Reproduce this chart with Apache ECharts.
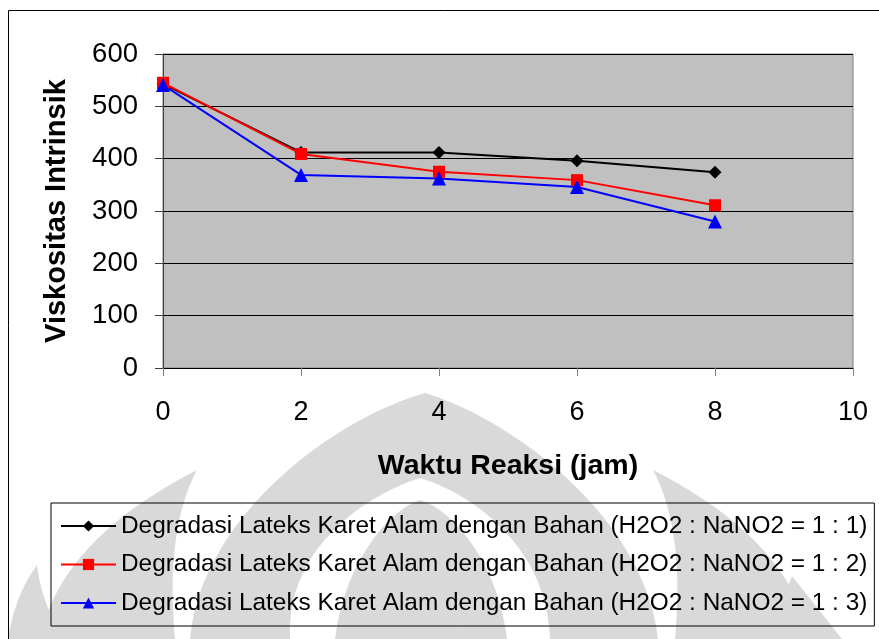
<!DOCTYPE html>
<html>
<head>
<meta charset="utf-8">
<script src="https://cdn.jsdelivr.net/npm/echarts@6/dist/echarts.min.js"></script>
<style>
html,body{margin:0;padding:0;background:#fff;}
#chart{width:879px;height:639px;}
</style>
</head>
<body>
<div id="chart"></div>
<script>
// ---- data ----
var timeValues = [0, 2, 4, 6, 8];
var seriesNames = [
  'Degradasi Lateks Karet Alam dengan Bahan (H2O2 : NaNO2 = 1 : 1)',
  'Degradasi Lateks Karet Alam dengan Bahan (H2O2 : NaNO2 = 1 : 2)',
  'Degradasi Lateks Karet Alam dengan Bahan (H2O2 : NaNO2 = 1 : 3)'
];
var ratio11 = [543, 412, 412, 396, 374];
var ratio12 = [545, 409, 375, 359, 311];
var ratio13 = [541, 369, 362, 346, 280];
var xAxisTitle = 'Waktu Reaksi (jam)';
var yAxisTitle = 'Viskositas Intrinsik';

function pairs(xs, ys) { return xs.map(function (x, i) { return [x, ys[i]]; }); }

var FONT = '"Liberation Sans", Arial, sans-serif';
var WM = '#d9d9d9';

// watermark helper: sample bezier segments into polygon points
function quad(p0, c, p1, out) {
  for (var i = 0; i <= 20; i++) { var t = i / 20, u = 1 - t;
    out.push([u*u*p0[0] + 2*u*t*c[0] + t*t*p1[0], u*u*p0[1] + 2*u*t*c[1] + t*t*p1[1]]); }
}
function cub(p0, c1, c2, p1, out) {
  for (var i = 0; i <= 24; i++) { var t = i / 24, u = 1 - t;
    out.push([u*u*u*p0[0] + 3*u*u*t*c1[0] + 3*u*t*t*c2[0] + t*t*t*p1[0],
              u*u*u*p0[1] + 3*u*u*t*c1[1] + 3*u*t*t*c2[1] + t*t*t*p1[1]]); }
}
function qShape(a, c1, tip, c2, b) { var o = []; quad(a, c1, tip, o); quad(tip, c2, b, o); return o; }
function cShape(a, c1, c2, tip, c3, c4, b) { var o = []; cub(a, c1, c2, tip, o); cub(tip, c3, c4, b, o); return o; }
function wm(points, fill, z) { return {type: 'polygon', z: z, silent: true, shape: {points: points}, style: {fill: fill}}; }

var chart = echarts.init(document.getElementById('chart'), null, {renderer: 'canvas'});
chart.setOption({
  animation: false,
  backgroundColor: '#ffffff',
  textStyle: {fontFamily: FONT},
  graphic: [
    wm(qShape([8,639],[15,595],[37,565],[42,605],[64,639]), WM, -10),
    wm(qShape([785,639],[780,605],[792,576],[815,605],[842,639]), WM, -10),
    wm(qShape([40,639],[60,540],[197,470],[165,530],[175,639]), WM, -10),
    wm(qShape([810,639],[790,540],[653,470],[685,530],[675,639]), WM, -10),
    wm(cShape([190,639],[200,520],[330,420],[425,393],[515,420],[645,520],[658,639]), WM, -10),
    wm(cShape([290,639],[285,540],[380,490],[420,478],[462,490],[547,540],[550,639]), '#ffffff', -9),
    wm(cShape([335,639],[345,560],[390,510],[420,500],[452,510],[497,560],[507,639]), WM, -8),
    {type: 'rect', z: 100, silent: true, shape: {x: 8.5, y: 10.5, width: 1000, height: 1000}, style: {fill: 'none', stroke: '#000', lineWidth: 1}}
  ],
  grid: {
    left: 163, top: 54, right: 26, bottom: 271,
    show: true, backgroundColor: '#c0c0c0', borderColor: '#808080', borderWidth: 1
  },
  legend: {
    orient: 'vertical',
    left: 51, top: 503,
    padding: [10, 7, 10, 9],
    itemGap: 12.5,
    itemWidth: 55, itemHeight: 14,
    borderColor: '#000', borderWidth: 1,
    textStyle: {fontFamily: FONT, fontSize: 24.4, color: '#000', lineHeight: 26},
    data: seriesNames
  },
  xAxis: {
    type: 'value', min: 0, max: 10, interval: 2,
    name: xAxisTitle, nameLocation: 'middle', nameGap: 84,
    nameTextStyle: {fontFamily: FONT, fontSize: 28.5, fontWeight: 'bold', color: '#000'},
    axisLine: {show: true, lineStyle: {color: '#000', width: 1}},
    axisTick: {show: true, inside: false, length: 8, lineStyle: {color: '#808080'}},
    axisLabel: {fontFamily: FONT, fontSize: 27, color: '#000', margin: 31},
    splitLine: {show: false}
  },
  yAxis: {
    type: 'value', min: 0, max: 600, interval: 100,
    name: yAxisTitle, nameLocation: 'middle', nameGap: 92, nameRotate: 90,
    nameTextStyle: {fontFamily: FONT, fontSize: 29, fontWeight: 'bold', color: '#000'},
    axisLine: {show: true, lineStyle: {color: '#404040', width: 1}},
    axisTick: {show: true, inside: false, length: 8, lineStyle: {color: '#404040'}},
    axisLabel: {fontFamily: FONT, fontSize: 27.5, color: '#000', margin: 25},
    splitLine: {show: true, lineStyle: {color: '#000', width: 1}}
  },
  series: [
    {name: seriesNames[0], type: 'line', data: pairs(timeValues, ratio11),
     symbol: 'diamond', symbolSize: 13, itemStyle: {color: '#000000'},
     lineStyle: {color: '#000000', width: 2}},
    {name: seriesNames[1], type: 'line', data: pairs(timeValues, ratio12),
     symbol: 'rect', symbolSize: 12, itemStyle: {color: '#ff0000'},
     lineStyle: {color: '#ff0000', width: 2}},
    {name: seriesNames[2], type: 'line', data: pairs(timeValues, ratio13),
     symbol: 'triangle', symbolSize: 14, itemStyle: {color: '#0000ff'},
     lineStyle: {color: '#0000ff', width: 2}}
  ]
});
</script>
</body>
</html>
